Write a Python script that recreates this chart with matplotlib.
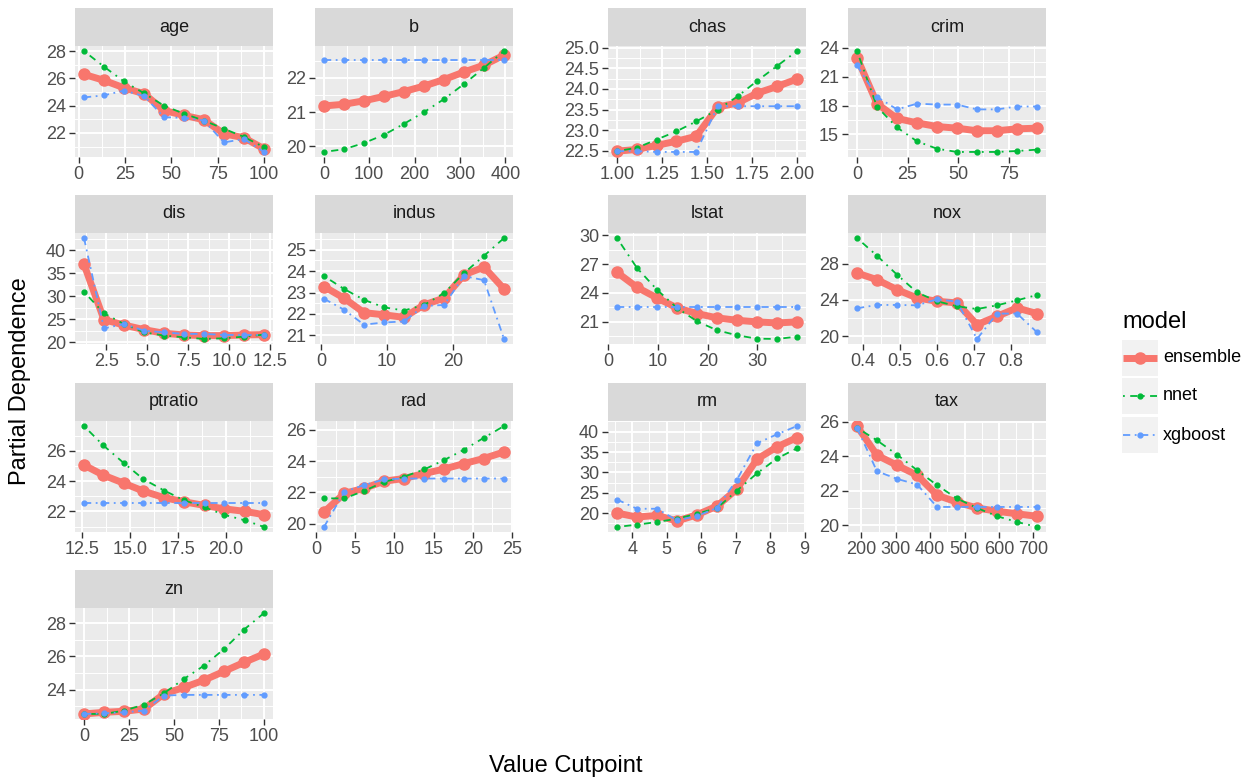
import matplotlib.pyplot as plt
from matplotlib.ticker import AutoMinorLocator
from matplotlib.patches import Rectangle
from matplotlib.lines import Line2D

plt.rcParams['font.family'] = ['Liberation Sans', 'DejaVu Sans']

# cutpoints and partial dependence per variable
age_x = [2.9, 13.7, 24.5, 35.3, 46.1, 56.9, 67.6, 78.4, 89.2, 100.0]
age_ensemble = [26.29, 25.85, 25.3, 24.87, 23.64, 23.28, 22.96, 21.93, 21.64, 20.83]
age_nnet = [28.0, 26.85, 25.77, 24.9, 23.99, 23.4, 22.9, 22.3, 21.7, 20.95]
age_xgboost = [24.6, 24.75, 25.1, 24.7, 23.15, 23.1, 22.9, 21.3, 21.55, 20.6]

b_x = [0.3, 44.4, 88.4, 132.5, 176.6, 220.6, 264.7, 308.8, 352.8, 396.9]
b_ensemble = [21.18, 21.23, 21.33, 21.46, 21.6, 21.76, 21.95, 22.17, 22.37, 22.66]
b_nnet = [19.84, 19.92, 20.1, 20.34, 20.66, 21.0, 21.38, 21.82, 22.29, 22.78]
b_xgboost = [22.52, 22.52, 22.52, 22.52, 22.52, 22.52, 22.52, 22.52, 22.52, 22.52]

chas_x = [1.00, 1.11, 1.22, 1.33, 1.44, 1.56, 1.67, 1.78, 1.89, 2.00]
chas_ensemble = [22.49, 22.53, 22.63, 22.73, 22.85, 23.56, 23.66, 23.9, 24.06, 24.24]
chas_nnet = [22.49, 22.57, 22.77, 22.97, 23.21, 23.5, 23.82, 24.2, 24.56, 24.92]
chas_xgboost = [22.49, 22.49, 22.47, 22.47, 22.47, 23.58, 23.58, 23.58, 23.58, 23.58]

crim_x = [0.0, 9.9, 19.8, 29.7, 39.5, 49.4, 59.3, 69.2, 79.1, 89.0]
crim_ensemble = [22.97, 18.2, 16.66, 16.2, 15.82, 15.65, 15.38, 15.38, 15.58, 15.65]
crim_nnet = [23.66, 17.87, 15.72, 14.28, 13.52, 13.18, 13.18, 13.18, 13.28, 13.42]
crim_xgboost = [22.18, 18.9, 17.6, 18.2, 18.1, 18.1, 17.6, 17.6, 17.9, 17.9]

dis_x = [1.13, 2.35, 3.57, 4.80, 6.02, 7.24, 8.46, 9.69, 10.91, 12.13]
dis_ensemble = [36.97, 24.9, 23.74, 22.73, 21.94, 21.57, 21.43, 21.43, 21.57, 21.65]
dis_nnet = [30.97, 26.3, 23.96, 22.15, 21.43, 21.07, 20.7, 20.85, 21.2, 21.65]
dis_xgboost = [42.7, 23.0, 23.96, 22.5, 22.15, 21.8, 21.8, 21.57, 21.57, 21.57]

indus_x = [0.46, 3.49, 6.52, 9.55, 12.58, 15.61, 18.65, 21.68, 24.71, 27.74]
indus_ensemble = [23.28, 22.74, 22.06, 21.96, 21.84, 22.42, 22.74, 23.83, 24.19, 23.17]
indus_nnet = [23.77, 23.17, 22.66, 22.31, 22.16, 22.42, 22.97, 23.91, 24.72, 25.55]
indus_xgboost = [22.71, 22.2, 21.5, 21.6, 21.65, 22.37, 22.42, 23.77, 23.58, 20.83]

lstat_x = [1.73, 5.76, 9.78, 13.81, 17.84, 21.87, 25.89, 29.92, 33.95, 37.97]
lstat_ensemble = [26.14, 24.58, 23.47, 22.43, 21.84, 21.39, 21.14, 20.97, 20.86, 20.97]
lstat_nnet = [29.72, 26.59, 24.33, 22.43, 21.03, 20.1, 19.57, 19.22, 19.19, 19.43]
lstat_xgboost = [22.5, 22.5, 22.5, 22.5, 22.5, 22.5, 22.5, 22.5, 22.5, 22.5]

nox_x = [0.385, 0.439, 0.493, 0.547, 0.601, 0.655, 0.709, 0.763, 0.817, 0.871]
nox_ensemble = [26.97, 26.24, 25.14, 24.22, 23.86, 23.67, 21.28, 22.2, 23.12, 22.5]
nox_nnet = [30.83, 28.88, 26.79, 24.84, 23.86, 23.3, 23.0, 23.41, 23.96, 24.55]
nox_xgboost = [23.08, 23.45, 23.45, 23.41, 24.07, 23.82, 19.7, 22.5, 22.5, 20.44]

ptratio_x = [12.6, 13.6, 14.7, 15.7, 16.8, 17.8, 18.9, 19.9, 21.0, 22.0]
ptratio_ensemble = [25.06, 24.4, 23.85, 23.34, 22.9, 22.64, 22.39, 22.17, 22.0, 21.78]
ptratio_nnet = [27.64, 26.37, 25.17, 24.13, 23.37, 22.75, 22.27, 21.78, 21.41, 20.97]
ptratio_xgboost = [22.56, 22.56, 22.56, 22.56, 22.56, 22.56, 22.56, 22.56, 22.56, 22.56]

rad_x = [1.0, 3.6, 6.1, 8.7, 11.2, 13.8, 16.3, 18.9, 21.4, 24.0]
rad_ensemble = [20.74, 21.94, 22.26, 22.72, 22.89, 23.21, 23.49, 23.85, 24.17, 24.59]
rad_nnet = [21.62, 21.62, 22.09, 22.68, 23.0, 23.47, 24.06, 24.74, 25.49, 26.25]
rad_xgboost = [19.79, 22.04, 22.47, 22.83, 22.89, 22.89, 22.89, 22.89, 22.89, 22.89]

rm_x = [3.56, 4.14, 4.72, 5.30, 5.88, 6.46, 7.04, 7.62, 8.20, 8.78]
rm_ensemble = [20.0, 19.02, 19.43, 18.05, 19.59, 21.7, 25.93, 33.25, 36.26, 38.54]
rm_nnet = [16.59, 17.15, 17.8, 18.62, 19.84, 21.22, 25.53, 29.76, 33.41, 35.93]
rm_xgboost = [23.33, 21.06, 21.06, 18.21, 19.27, 21.3, 28.21, 37.15, 39.35, 41.38]

tax_x = [187, 245, 303, 362, 420, 478, 536, 595, 653, 711]
tax_ensemble = [25.75, 24.06, 23.48, 22.9, 21.74, 21.34, 21.0, 20.81, 20.66, 20.52]
tax_nnet = [25.65, 24.92, 24.1, 23.19, 22.32, 21.55, 21.0, 20.52, 20.19, 19.9]
tax_xgboost = [25.65, 23.13, 22.69, 22.36, 21.06, 21.06, 21.06, 21.06, 21.06, 21.06]

zn_x = [0, 11.1, 22.2, 33.3, 44.4, 55.6, 66.7, 77.8, 88.9, 100]
zn_ensemble = [22.53, 22.63, 22.69, 22.83, 23.74, 24.13, 24.57, 25.1, 25.64, 26.15]
zn_nnet = [22.53, 22.53, 22.73, 23.09, 23.78, 24.65, 25.45, 26.45, 27.62, 28.62]
zn_xgboost = [22.53, 22.57, 22.63, 22.73, 23.64, 23.68, 23.68, 23.68, 23.68, 23.68]

panels = ['age', 'b', 'chas', 'crim', 'dis', 'indus', 'lstat', 'nox',
          'ptratio', 'rad', 'rm', 'tax', 'zn']
models = ['ensemble', 'nnet', 'xgboost']

# tick labels per panel
x_ticks = {
    'age': ['0', '25', '50', '75', '100'],
    'b': ['0', '100', '200', '300', '400'],
    'chas': ['1.00', '1.25', '1.50', '1.75', '2.00'],
    'crim': ['0', '25', '50', '75'],
    'dis': ['2.5', '5.0', '7.5', '10.0', '12.5'],
    'indus': ['0', '10', '20'],
    'lstat': ['0', '10', '20', '30'],
    'nox': ['0.4', '0.5', '0.6', '0.7', '0.8'],
    'ptratio': ['12.5', '15.0', '17.5', '20.0'],
    'rad': ['0', '5', '10', '15', '20', '25'],
    'rm': ['4', '5', '6', '7', '8', '9'],
    'tax': ['200', '300', '400', '500', '600', '700'],
    'zn': ['0', '25', '50', '75', '100'],
}
y_ticks = {
    'age': ['22', '24', '26', '28'],
    'b': ['20', '21', '22'],
    'chas': ['22.5', '23.0', '23.5', '24.0', '24.5', '25.0'],
    'crim': ['15', '18', '21', '24'],
    'dis': ['20', '25', '30', '35', '40'],
    'indus': ['21', '22', '23', '24', '25'],
    'lstat': ['21', '24', '27', '30'],
    'nox': ['20', '24', '28'],
    'ptratio': ['22', '24', '26'],
    'rad': ['20', '22', '24', '26'],
    'rm': ['20', '25', '30', '35', '40'],
    'tax': ['20', '22', '24', '26'],
    'zn': ['24', '26', '28'],
}

g = globals()
data = {p: {'x': g[p + '_x'], **{m: g[p + '_' + m] for m in models}} for p in panels}

colors = {'ensemble': '#F8766D', 'nnet': '#00BA38', 'xgboost': '#619CFF'}
styles = {
    'ensemble': dict(lw=5, ls='-', ms=8),
    'nnet': dict(lw=1.3, ls=(0, (1, 3, 4, 3)), ms=3.5),
    'xgboost': dict(lw=1.3, ls=(0, (4, 2.5, 1, 2.5)), ms=3.5),
}

W, H = 1260, 777
fig = plt.figure(figsize=(12.6, 7.77), dpi=100)


def box(x, y, w, h):
    # pixel box (top-left origin) -> figure fraction
    return [x / W, 1 - (y + h) / H, w / W, h / H]


col_left = [75, 315, 608, 848]
row_top = [46, 233, 421, 608]
pw, ph, sh = 198, 111, 38


def padded(vals):
    lo, hi = min(vals), max(vals)
    pad = 0.05 * (hi - lo)
    return lo - pad, hi + pad


for i, p in enumerate(panels):
    r, c = divmod(i, 4)
    ax = fig.add_axes(box(col_left[c], row_top[r], pw, ph))
    d = data[p]
    for m in models:
        st = styles[m]
        ax.plot(d['x'], d[m], color=colors[m], lw=st['lw'], ls=st['ls'],
                marker='o', ms=st['ms'], solid_capstyle='butt')
    xl = padded(d['x'])
    yl = padded(d['ensemble'] + d['nnet'] + d['xgboost'])
    xt = [float(t) for t in x_ticks[p]]
    yt = [float(t) for t in y_ticks[p]]
    ax.set_xticks(xt, x_ticks[p])
    ax.set_yticks(yt, y_ticks[p])
    ax.set_xlim(xl)
    ax.set_ylim(yl)
    ax.xaxis.set_minor_locator(AutoMinorLocator(2))
    ax.yaxis.set_minor_locator(AutoMinorLocator(2))
    ax.set_facecolor('#EBEBEB')
    for s in ax.spines.values():
        s.set_visible(False)
    ax.set_axisbelow(True)
    ax.grid(which='major', color='white', lw=1.4)
    ax.grid(which='minor', color='white', lw=0.7)
    ax.tick_params(which='major', length=4, width=1, color='#333333',
                   labelcolor='#4D4D4D', labelsize=13, pad=2.5)
    ax.tick_params(which='minor', length=0)

    strip = fig.add_axes(box(col_left[c], row_top[r] - sh, pw, sh))
    strip.set_facecolor('#D9D9D9')
    strip.set_xticks([])
    strip.set_yticks([])
    for s in strip.spines.values():
        s.set_visible(False)
    strip.text(0.5, 0.5, p, ha='center', va='center', fontsize=13,
               color='#1A1A1A', transform=strip.transAxes)

fig.text(20 / W, 1 - 381 / H, 'Partial Dependence', rotation=90,
         ha='center', va='center', fontsize=17, color='black')
fig.text(566 / W, 1 - 766 / H, 'Value Cutpoint', ha='center', va='center',
         fontsize=17, color='black')

# legend drawn by hand to get ggplot-like grey key boxes
lg = fig.add_axes(box(1090, 300, 170, 160))
lg.set_xlim(0, 170)
lg.set_ylim(160, 0)
lg.axis('off')
lg.text(32, 22, 'model', ha='left', va='center', fontsize=17)
key_tops = [40, 78, 117]
for m, kt in zip(models, key_tops):
    lg.add_patch(Rectangle((32, kt), 36, 36, facecolor='#F2F2F2', edgecolor='none'))
    st = styles[m]
    lg.add_line(Line2D([33, 67], [kt + 18, kt + 18], color=colors[m], lw=st['lw'],
                       ls=st['ls'], solid_capstyle='butt'))
    lg.plot([50], [kt + 18], marker='o', ms=st['ms'], color=colors[m])
    lg.text(73, kt + 18, m, ha='left', va='center', fontsize=13)

fig.savefig('out.png', dpi=100)
